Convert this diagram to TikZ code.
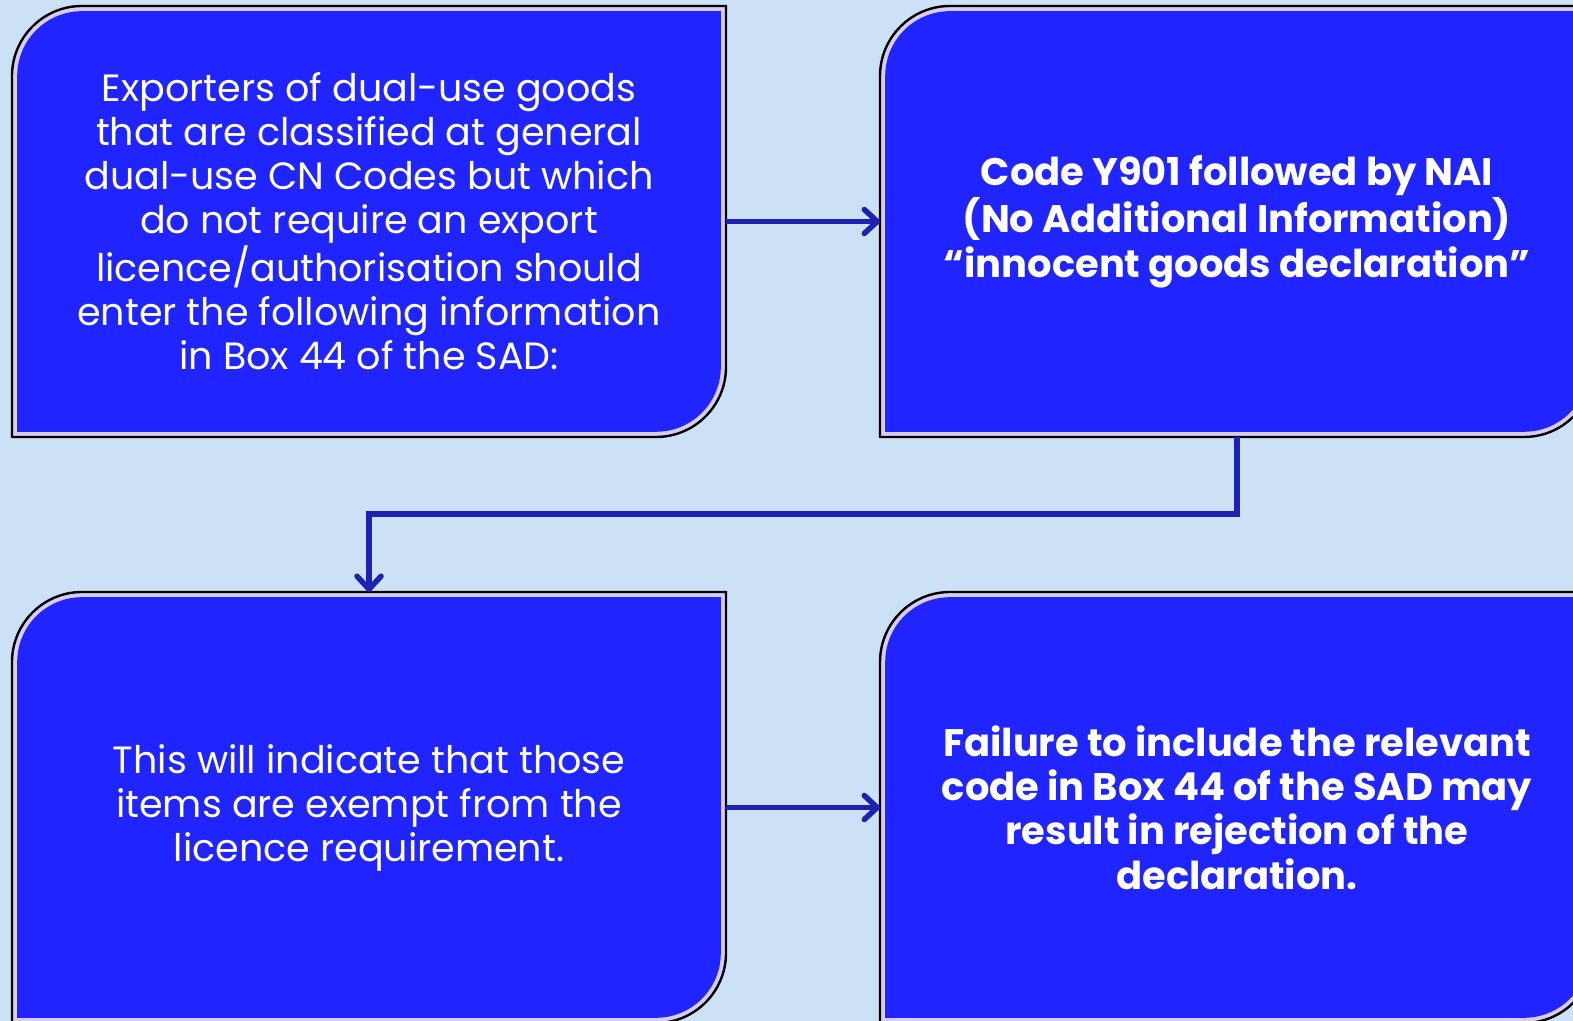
\documentclass[tikz,border=0pt]{standalone}
\usepackage{fontspec}
\setmainfont{Poppins}
\usetikzlibrary{arrows.meta, positioning, backgrounds}

\definecolor{paleblue}{HTML}{CCE1F6}
\definecolor{cardblue}{HTML}{2024FF}
\definecolor{cardrim}{HTML}{D9CCF2}
\definecolor{linkblue}{HTML}{1D22B2}

% outline of a card: round top left and bottom right corners
\newcommand{\cardshape}[3]{%
  ([shift={(#2,#2)}]#1.south west) -- ([shift={(#2,-#3)}]#1.north west)
  arc[start angle=180, end angle=90, radius=#3-#2]
  -- ([shift={(-#2,-#2)}]#1.north east) -- ([shift={(-#2,#3)}]#1.south east)
  arc[start angle=0, end angle=-90, radius=#3-#2] -- cycle}

\begin{document}
\begin{tikzpicture}[x=0.5pt, y=0.5pt,
    card/.style={minimum width=357pt, minimum height=215.5pt, inner sep=0pt, outer sep=0pt,
                 align=center, text=white, font=\fontsize{19}{22}\selectfont},
    boldcard/.style={card, font=\fontsize{19.2}{22.2}\selectfont\bfseries},
    link/.style={-{Straight Barb[length=6.5pt, width=12pt, round]}, line width=2.75pt, linkblue}]

    \useasboundingbox (0,0) rectangle (1573,1021);

    \node[card] (export) at (369,799.5) {
        Exporters of dual-use goods\\
        that are classified at general\\
        dual-use CN Codes but which\\
        do not require an export\\
        licence/authorisation should\\
        enter the following information\\
        in Box 44 of the SAD:
    };
    \node[boldcard] (code) at (1237,799.5) {
        Code Y901 followed by NAI\\
        (No Additional Information)\\
        “innocent goods declaration”
    };
    \node[card] (exempt) at (369,213.5) {
        This will indicate that those\\
        items are exempt from the\\
        licence requirement.
    };
    \node[boldcard] (failure) at (1237,213.5) {
        Failure to include the relevant\\
        code in Box 44 of the SAD may\\
        result in rejection of the\\
        declaration.
    };

    \begin{scope}[on background layer]
        \fill[paleblue] (0,0) rectangle (1573,1021);
        \foreach \c in {export, code, exempt, failure} {
            \fill[cardrim] \cardshape{\c}{0pt}{35pt};
            \fill[cardblue] \cardshape{\c}{2.6pt}{35pt};
            \draw[black, line width=1.2pt] \cardshape{\c}{0pt}{35pt};
        }
    \end{scope}

    \draw[link] (export) -- (code);
    \draw[link] (code.south) -- ++(0,-77) -| (exempt.north);
    \draw[link] (exempt) -- (failure);
\end{tikzpicture}
\end{document}
